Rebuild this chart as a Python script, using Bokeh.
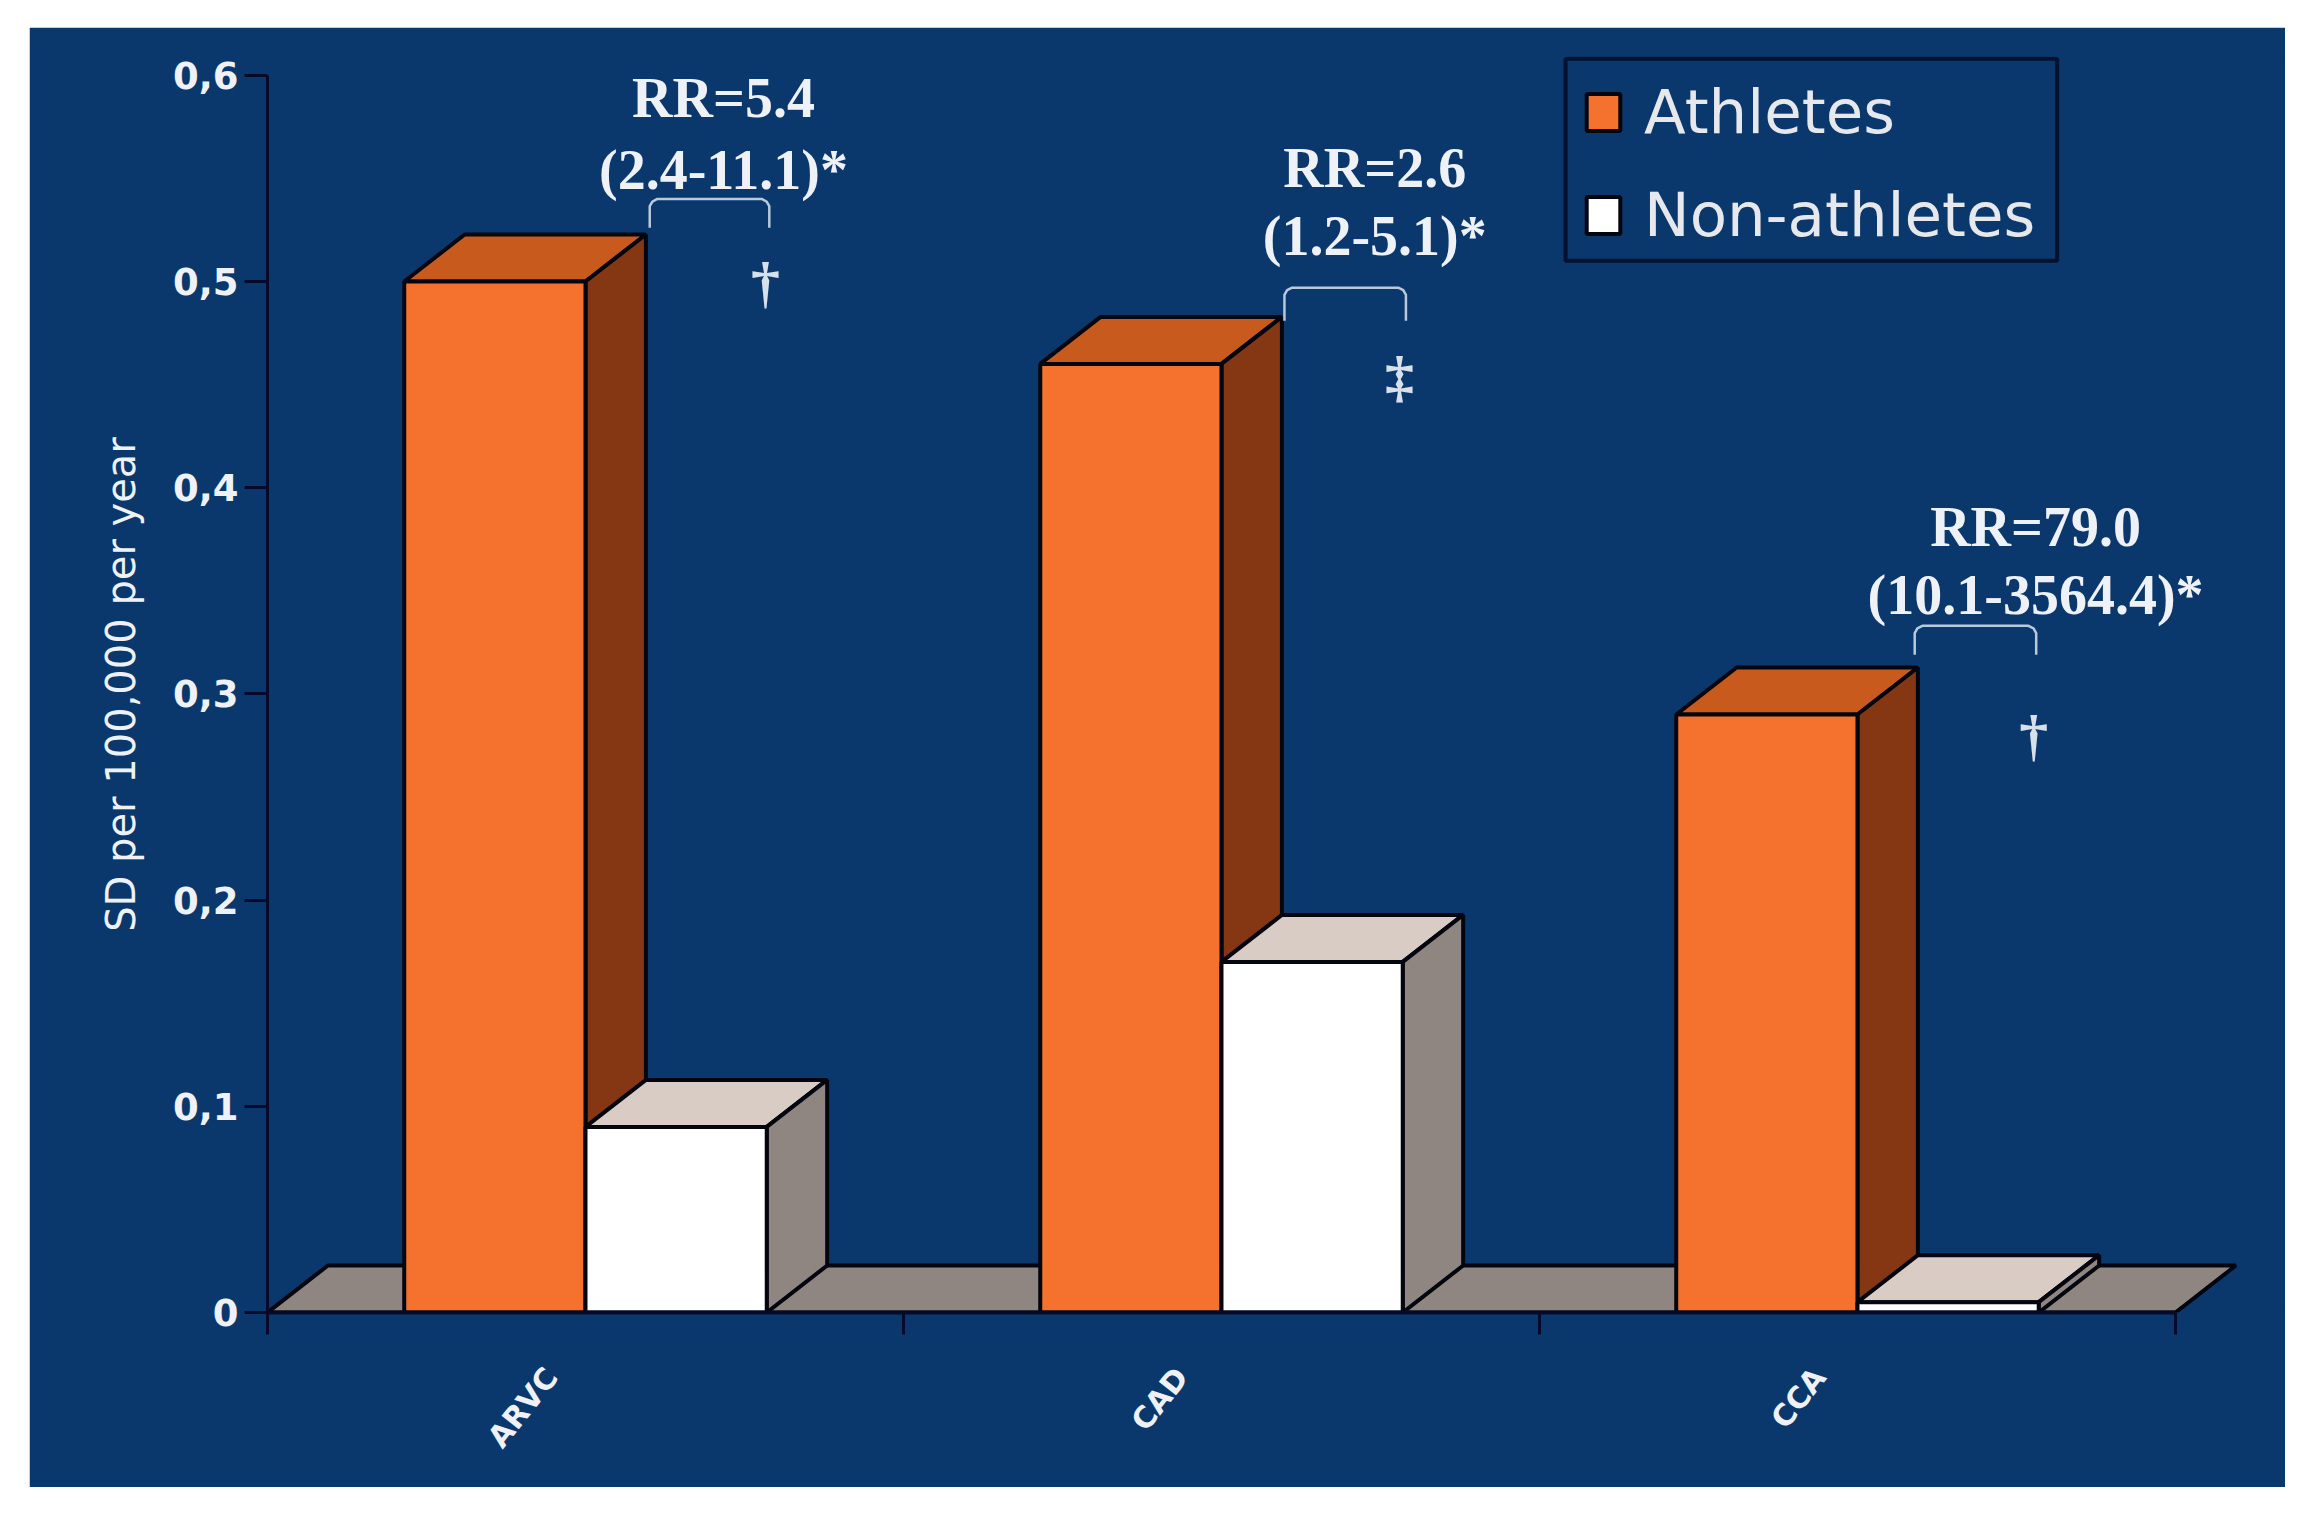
from bokeh.plotting import figure
from bokeh.embed import file_html
from bokeh.resources import INLINE
from bokeh.core.properties import value
from bokeh.models import Range1d, FixedTicker, Legend, LegendItem

# ---- data
categories = ["ARVC", "CAD", "CCA"]
athletes = [0.50, 0.46, 0.29]
non_athletes = [0.09, 0.17, 0.005]
y_ticks = [0, 0.1, 0.2, 0.3, 0.4, 0.5, 0.6]
y_tick_labels = ["0", "0,1", "0,2", "0,3", "0,4", "0,5", "0,6"]
rr_lines = ["RR=5.4", "(2.4-11.1)*", "RR=2.6", "(1.2-5.1)*", "RR=79.0", "(10.1-3564.4)*"]
marks = ["†", "‡", "†"]
y_title = "SD per 100,000 per year"

# ---- annotation placement (data units)
rr_x = [0.717, 0.717, 1.741, 1.741, 2.78, 2.78]
rr_y = [0.589, 0.554, 0.555, 0.522, 0.381, 0.348]
mark_x = [0.783, 1.78, 2.777]
mark_y = [0.4995, 0.454, 0.28]
brk_x0 = [0.601, 1.599, 2.59]
brk_x1 = [0.789, 1.79, 2.781]
brk_top = [0.540, 0.497, 0.333]
brk_bot = [0.526, 0.481, 0.319]
label_ticks = [0.446, 1.437, 2.44]
legend_box = (2.041, 2.814, 0.510, 0.608)

# ---- styles
PANEL = "#0a386c"
ORANGE, ORANGE_TOP, ORANGE_SIDE = "#f4722e", "#c85a1e", "#853714"
WHITE, WHITE_TOP, WHITE_SIDE = "#ffffff", "#d8ccc4", "#8f8682"
FLOOR = "#8f8682"
EDGE = "#04060f"
AXIS = "#050a2a"
TXT = "#eef1f5"
BW = 0.285      # bar width, category units
DX = 0.095      # 3-D depth, category units
DY = 0.0228     # 3-D depth, value units

p = figure(width=2256, height=1460, output_backend="svg", toolbar_location=None,
           x_range=Range1d(0, 3.173), y_range=Range1d(0, 0.6091),
           min_border_left=238, min_border_right=0, min_border_top=29, min_border_bottom=175,
           background_fill_color=PANEL, border_fill_color=PANEL,
           outline_line_color=PANEL, outline_line_width=2)
p.margin = (27, 0, 0, 29)
p.grid.visible = False


def extrusion(x0, x1, v, top_col, side_col):
    p.patches([[x0, x1, x1 + DX, x0 + DX]], [[v, v, v + DY, v + DY]],
              fill_color=top_col, line_color=EDGE, line_width=4)
    p.patches([[x1, x1 + DX, x1 + DX, x1]], [[v, v + DY, DY, 0]],
              fill_color=side_col, line_color=EDGE, line_width=4)


# floor
p.patches([[0, 3, 3 + DX, DX]], [[0, 0, DY, DY]], fill_color=FLOOR, line_color=EDGE, line_width=4)

orange_r = white_r = None
for i, (a, n) in enumerate(zip(athletes, non_athletes)):
    c = i + 0.5
    extrusion(c - BW, c, a, ORANGE_TOP, ORANGE_SIDE)
    orange_r = p.vbar(x=[c - BW / 2], width=BW, bottom=[0], top=[a],
                      fill_color=ORANGE, line_color=EDGE, line_width=4)
    extrusion(c, c + BW, n, WHITE_TOP, WHITE_SIDE)
    white_r = p.vbar(x=[c + BW / 2], width=BW, bottom=[0], top=[n],
                     fill_color=WHITE, line_color=EDGE, line_width=4)

# brackets
xs, ys = [], []
for x0, x1, t, b in zip(brk_x0, brk_x1, brk_top, brk_bot):
    cx, cy = 0.012, 0.0035
    xs.append([x0, x0, x0 + cx * 0.35, x0 + cx, x1 - cx, x1 - cx * 0.35, x1, x1])
    ys.append([b, t - cy, t - cy * 0.35, t, t, t - cy * 0.35, t - cy, b])
p.multi_line(xs, ys, line_color="#b9c8da", line_width=2.5)

# RR texts and marks
p.text(rr_x, rr_y, text=rr_lines, text_font=value("Liberation Serif"), text_font_style="bold",
       text_font_size=value("56px"), text_color=TXT, text_align="center", text_baseline="middle")
p.text(mark_x, mark_y, text=marks, text_font=value("Liberation Serif"), text_font_style="bold",
       text_font_size=value("58px"), text_color="#d8e0ea", text_align="center", text_baseline="middle")

# axes
ax = p.yaxis[0]
ax.ticker = FixedTicker(ticks=y_ticks)
ax.major_label_overrides = dict(zip(y_ticks, y_tick_labels))
ax.bounds = (0, 0.6)
ax.major_tick_out = 23
ax.major_tick_in = 0
ax.minor_tick_out = 0
ax.minor_tick_in = 0
ax.major_tick_line_color = AXIS
ax.major_tick_line_width = 3
ax.axis_line_color = AXIS
ax.axis_line_width = 3
ax.major_label_text_font = "DejaVu Sans"
ax.major_label_text_font_size = "37px"
ax.major_label_text_font_style = "bold"
ax.major_label_text_color = TXT
ax.major_label_standoff = 6
ax.axis_label = y_title
ax.axis_label_text_font = "DejaVu Sans"
ax.axis_label_text_font_size = "40px"
ax.axis_label_text_font_style = "normal"
ax.axis_label_text_color = TXT
ax.axis_label_standoff = 26

bx = p.xaxis[0]
bx.ticker = FixedTicker(ticks=label_ticks, minor_ticks=[0, 1, 2, 3])
bx.major_label_overrides = dict(zip(label_ticks, categories))
bx.bounds = (0, 3)
bx.major_tick_out = 0
bx.major_tick_in = 0
bx.minor_tick_out = 22
bx.minor_tick_in = 0
bx.minor_tick_line_color = AXIS
bx.minor_tick_line_width = 3
bx.axis_line_color = AXIS
bx.axis_line_width = 4
bx.major_label_orientation = 0.9
bx.major_label_text_font = "DejaVu Sans"
bx.major_label_text_font_size = "30px"
bx.major_label_text_font_style = "bold"
bx.major_label_text_color = TXT
bx.major_label_standoff = 37

# legend frame plus the legend inside it
p.quad(left=[legend_box[0]], right=[legend_box[1]], bottom=[legend_box[2]], top=[legend_box[3]],
       fill_color=PANEL, line_color="#06102f", line_width=4)
legend = Legend(items=[LegendItem(label="Athletes", renderers=[orange_r]),
                       LegendItem(label="Non-athletes", renderers=[white_r])],
                location=(1315, 1062), margin=0, padding=0, spacing=32,
                glyph_width=42, glyph_height=46, label_standoff=20, label_height=46,
                background_fill_alpha=0, border_line_color=None,
                label_text_font="DejaVu Sans", label_text_font_size="61px",
                label_text_color="#e6e8ec")
p.add_layout(legend)

open("out.html", "w").write(file_html(p, INLINE))
